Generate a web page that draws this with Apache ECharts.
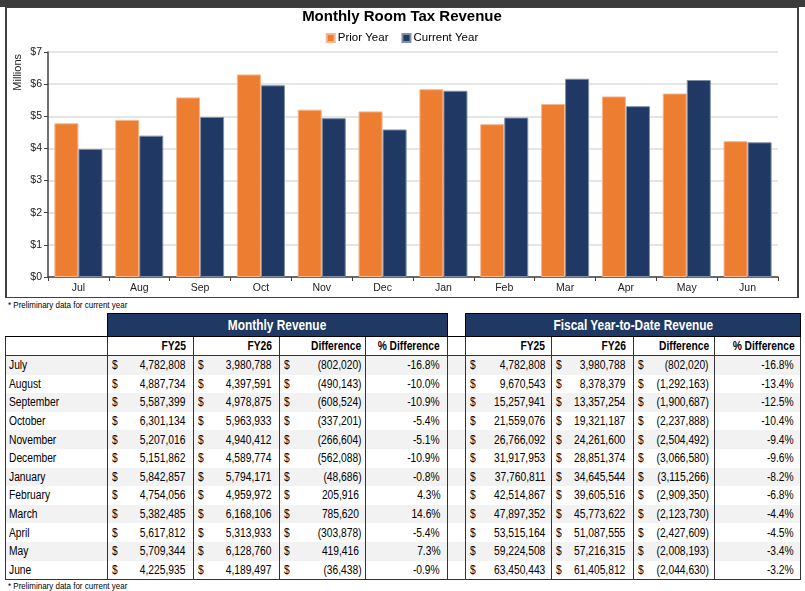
<!DOCTYPE html>
<html>
<head>
<meta charset="utf-8">
<title>Monthly Room Tax Revenue</title>
<script src="https://cdn.jsdelivr.net/npm/echarts@6/dist/echarts.min.js"></script>
<style>
body{margin:0;width:805px;height:591px;overflow:hidden;background:#fff;position:relative;
  font-family:"Liberation Sans",Arial,sans-serif;color:#000}
#topbar{position:absolute;left:0;top:0;width:805px;height:7px;background:#3b3b3b}
#main{position:absolute;left:5px;top:7px;width:790px;height:289px;
  border:1px solid #404040;border-left:2px solid #404040;border-right:2px solid #404040}
.note{position:absolute;left:8px;font-size:9.5px;line-height:10px;transform:scaleX(0.84);transform-origin:left center;white-space:nowrap}
#tbl{position:absolute;left:5px;top:313px;border-collapse:collapse;table-layout:fixed;font-size:12.5px}
#tbl td{padding:0;white-space:nowrap;overflow:hidden;position:relative}
#tbl tr.band td{height:22px}
#tbl td.band{background:#1f3864;color:#fff;font-weight:bold;font-size:14.5px;text-align:center;border:1.5px solid #000}
#tbl tr.head td{height:18px;font-weight:bold;border:1.5px solid #333;border-top:1.5px solid #000}
#tbl tr.row td{height:18.6px;border-left:1.5px solid #333;border-right:1.5px solid #333}
#tbl tr.row.odd td{background:#f2f2f2}
#tbl tr.last td{border-bottom:1.5px solid #333}
.s{display:inline-block;transform:scaleX(0.82)}
.l{position:absolute;top:50%;transform:translateY(-50%) scaleX(0.82);transform-origin:left center}
.r{position:absolute;top:50%;transform:translateY(-50%) scaleX(0.82);transform-origin:right center}
</style>
</head>
<body>
<div id="topbar"></div>
<div id="main"></div>
<div class="note" style="top:300px">* Preliminary data for current year</div>
<table id="tbl"></table>
<div class="note" style="top:581px">* Preliminary data for current year</div>
<script type="text/javascript">
var months = ['Jul', 'Aug', 'Sep', 'Oct', 'Nov', 'Dec', 'Jan', 'Feb', 'Mar', 'Apr', 'May', 'Jun'];
var monthNames = ['July', 'August', 'September', 'October', 'November', 'December',
    'January', 'February', 'March', 'April', 'May', 'June'];
var fy25 = [4782808, 4887734, 5587399, 6301134, 5207016, 5151862, 5842857, 4754056, 5382485, 5617812, 5709344, 4225935];
var fy26 = [3980788, 4397591, 4978875, 5963933, 4940412, 4589774, 5794171, 4959972, 6168106, 5313933, 6128760, 4189497];
var diff = [-802020, -490143, -608524, -337201, -266604, -562088, -48686, 205916, 785620, -303878, 419416, -36438];
var pctDiff = [-16.8, -10.0, -10.9, -5.4, -5.1, -10.9, -0.8, 4.3, 14.6, -5.4, 7.3, -0.9];
var ytd25 = [4782808, 9670543, 15257941, 21559076, 26766092, 31917953, 37760811, 42514867, 47897352, 53515164, 59224508, 63450443];
var ytd26 = [3980788, 8378379, 13357254, 19321187, 24261600, 28851374, 34645544, 39605516, 45773622, 51087555, 57216315, 61405812];
var ytdDiff = [-802020, -1292163, -1900687, -2237888, -2504492, -3066580, -3115266, -2909350, -2123730, -2427609, -2008193, -2044630];
var ytdPct = [-16.8, -13.4, -12.5, -10.4, -9.4, -9.6, -8.2, -6.8, -4.4, -4.5, -3.4, -3.2];
var colWidths = [102, 86, 86, 86, 82, 18, 86, 82, 81, 86];

var FONT = '"Liberation Sans",Arial,sans-serif';

// chart
var myChart = echarts.init(document.getElementById('main'));
myChart.setOption({
    animation: false,
    textStyle: {fontFamily: FONT},
    title: {
        text: 'Monthly Room Tax Revenue',
        left: 'center', top: 1, padding: 0,
        textStyle: {fontSize: 15, fontWeight: 'bold', color: '#000', fontFamily: FONT}
    },
    legend: {
        top: 24, left: 'center', padding: 0,
        itemWidth: 8, itemHeight: 8, itemGap: 13,
        icon: 'rect',
        textStyle: {fontSize: 11.5, color: '#000', padding: [0, 0, 0, -2]},
        data: ['Prior Year', 'Current Year']
    },
    graphic: [{
        type: 'text', left: 5, top: 46, rotation: Math.PI / 2,
        style: {text: 'Millions', font: '11px ' + FONT, fill: '#222'}
    }],
    grid: {left: 41, right: 19, top: 44, bottom: 20},
    xAxis: {
        type: 'category',
        data: months,
        axisLine: {lineStyle: {color: '#404040', width: 1.5}},
        axisTick: {show: true, length: 4, lineStyle: {color: '#404040'}},
        axisLabel: {fontSize: 10.5, color: '#222', margin: 6}
    },
    yAxis: {
        type: 'value', min: 0, max: 7, interval: 1,
        axisLine: {show: true, lineStyle: {color: '#404040', width: 1.5}},
        axisTick: {show: true, length: 4, lineStyle: {color: '#404040'}},
        axisLabel: {fontSize: 10.5, color: '#222', margin: 6, formatter: function (v) { return '$' + v; }},
        splitLine: {lineStyle: {color: '#dcdcdc', width: 1.5}}
    },
    series: [
        {
            name: 'Prior Year', type: 'bar', barGap: '0%', barCategoryGap: '21%',
            itemStyle: {color: '#ed7d31', borderColor: '#f6b88c', borderWidth: 1},
            data: fy25.map(function (v) { return v / 1e6; })
        },
        {
            name: 'Current Year', type: 'bar',
            itemStyle: {color: '#203864', borderColor: '#7f8fa9', borderWidth: 1},
            data: fy26.map(function (v) { return v / 1e6; })
        }
    ]
});

// tables
function fmt(v) {
    var s = Math.abs(v).toLocaleString('en-US');
    return v < 0 ? '(' + s + ')' : s + '<span style="visibility:hidden">)</span>';
}
function money(v, pr) {
    return '<span class="l" style="left:4px">$</span><span class="r" style="right:' + pr + 'px">' + fmt(v) + '</span>';
}
function right(t, pr) {
    return '<span class="r" style="right:' + pr + 'px">' + t + '</span>';
}
function pct(v) { return right(v.toFixed(1) + '%', 7); }

var html = '<colgroup>';
colWidths.forEach(function (w) { html += '<col style="width:' + w + 'px">'; });
html += '</colgroup>';
html += '<tr class="band"><td></td><td class="band" colspan="4"><span class="s">Monthly Revenue</span></td><td></td>' +
    '<td class="band" colspan="4"><span class="s">Fiscal Year-to-Date Revenue</span></td></tr>';
html += '<tr class="head"><td></td><td>' + right('FY25', 7) + '</td><td>' + right('FY26', 7) + '</td><td>' +
    right('Difference', 4) + '</td><td>' + right('% Difference', 7) + '</td><td></td>' +
    '<td>' + right('FY25', 6) + '</td><td>' + right('FY26', 7) + '</td><td>' + right('Difference', 5) +
    '</td><td>' + right('% Difference', 5) + '</td></tr>';
for (var i = 0; i < months.length; i++) {
    var cls = 'row' + (i % 2 === 0 ? ' odd' : '') + (i === months.length - 1 ? ' last' : '');
    html += '<tr class="' + cls + '">' +
        '<td><span class="l" style="left:3px">' + monthNames[i] + '</span></td>' +
        '<td>' + money(fy25[i], 4) + '</td>' +
        '<td>' + money(fy26[i], 4) + '</td>' +
        '<td>' + money(diff[i], 3) + '</td>' +
        '<td>' + pct(pctDiff[i]) + '</td>' +
        '<td></td>' +
        '<td>' + money(ytd25[i], 2) + '</td>' +
        '<td>' + money(ytd26[i], 4) + '</td>' +
        '<td>' + money(ytdDiff[i], 5) + '</td>' +
        '<td>' + right(ytdPct[i].toFixed(1) + '%', 6) + '</td>' +
        '</tr>';
}
document.getElementById('tbl').innerHTML = html;
</script>
</body>
</html>
